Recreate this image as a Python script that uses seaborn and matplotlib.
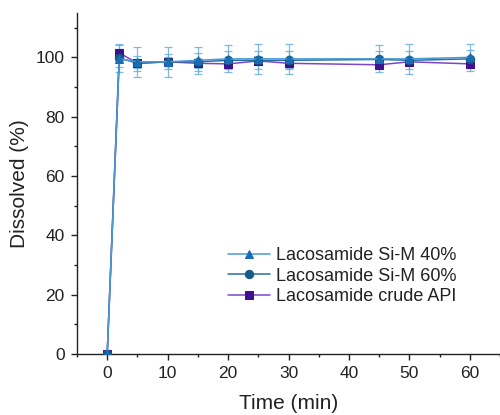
import matplotlib
matplotlib.use("Agg")
import matplotlib.pyplot as plt
import seaborn as sns
import pandas as pd
from matplotlib.ticker import MultipleLocator

time = [0, 2, 5, 10, 15, 20, 25, 30, 45, 50, 60]
sim40 = [0, 99.5, 98.5, 98.5, 99.0, 99.5, 99.5, 99.5, 99.5, 99.5, 100.0]
sim40_err = [0, 4.5, 5.0, 5.0, 4.5, 4.5, 5.0, 5.0, 4.5, 5.0, 4.5]
sim60 = [0, 99.8, 98.0, 98.5, 98.5, 99.0, 99.0, 99.0, 99.3, 99.0, 99.5]
sim60_err = [0, 3.0, 2.5, 2.5, 3.0, 3.0, 3.0, 3.0, 3.0, 3.0, 3.0]
crude = [0, 101.5, 98.0, 98.5, 98.0, 97.8, 98.8, 98.0, 97.5, 98.5, 97.8]
crude_err = [0, 3.0, 1.5, 1.5, 1.5, 1.5, 1.5, 1.5, 1.5, 1.5, 1.5]
labels = ["Lacosamide Si-M 40%", "Lacosamide Si-M 60%", "Lacosamide crude API"]

sns.set_theme(style="ticks")
plt.rcParams["font.family"] = ["Liberation Sans", "DejaVu Sans"]

fig = plt.figure(figsize=(5, 4.15), dpi=100)
ax = fig.add_axes([0.154, 0.147, 0.846, 0.822])

series = [
    (sim40, sim40_err, labels[0], "#4a9ad6", "#1a6db5", "^", 5),
    (sim60, sim60_err, labels[1], "#2a6e9c", "#165a85", "o", 4),
    (crude, crude_err, labels[2], "#7c46c8", "#3d1190", "s", 3),
]

for vals, err, lab, lc, mc, mk, z in series:
    ax.errorbar(time, vals, yerr=err, fmt="none", ecolor="#6aaedc", elinewidth=0.9,
                capsize=3, capthick=0.9, alpha=0.85, zorder=2)

for vals, err, lab, lc, mc, mk, z in series:
    df = pd.DataFrame({"Time": time, "Dissolved": vals})
    sns.lineplot(data=df, x="Time", y="Dissolved", ax=ax, color=lc, lw=1.1,
                 marker=mk, markersize=6, markerfacecolor=mc, markeredgecolor=mc,
                 label=lab, zorder=z)

ax.set_xlim(-5, 65)
ax.set_ylim(0, 115)
ax.xaxis.set_major_locator(MultipleLocator(10))
ax.xaxis.set_minor_locator(MultipleLocator(5))
ax.yaxis.set_minor_locator(MultipleLocator(10))
ax.set_yticks([0, 20, 40, 60, 80, 100])
ax.tick_params(axis="both", which="major", direction="out", length=4, width=1,
               labelsize=12.5, color="#222222", labelcolor="#222222", pad=5)
ax.tick_params(axis="both", which="minor", direction="out", length=2.5, width=1, color="#222222")
for s in ["top", "right"]:
    ax.spines[s].set_visible(False)
for s in ["left", "bottom"]:
    ax.spines[s].set_color("#222222")
    ax.spines[s].set_linewidth(1.0)

ax.set_xlabel("Time (min)", fontsize=15, color="#222222", labelpad=9)
ax.set_ylabel("Dissolved (%)", fontsize=15, color="#222222", labelpad=5)

leg = ax.legend(loc="upper left", bbox_to_anchor=(0.34, 0.335), frameon=False,
                fontsize=13, handlelength=2.3, handletextpad=0.35, labelspacing=0.2,
                borderaxespad=0)
for t in leg.get_texts():
    t.set_color("#222222")

fig.savefig("out.png", dpi=100)
